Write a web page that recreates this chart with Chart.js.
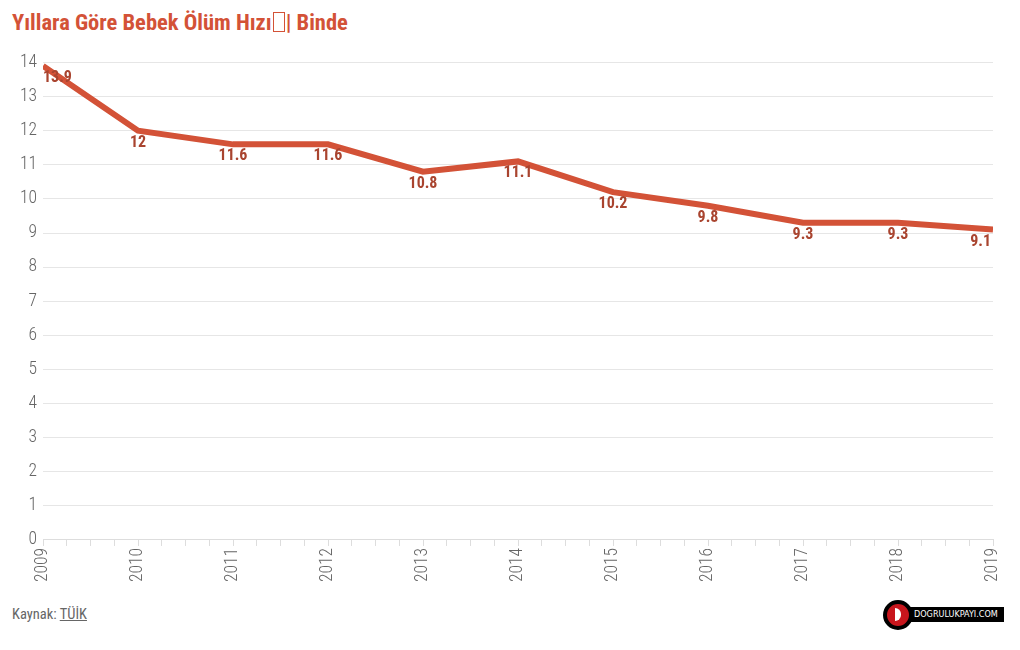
<!DOCTYPE html>
<html>
<head>
<meta charset="utf-8">
<script src="https://cdn.jsdelivr.net/npm/chart.js@4"></script>
<style>
  body { margin: 0; background: #fff; font-family: "Roboto Condensed", "Liberation Sans Narrow", "DejaVu Sans Condensed", Roboto, sans-serif; }
  #title { position: absolute; left: 12px; top: 9px; font-size: 22.5px; font-weight: bold; color: #d35237; }
  #title .box { display: inline-block; width: 10px; height: 18px; border: 1px solid #d35237; vertical-align: -2px; margin: 0 1px; }
  #wrap { position: absolute; left: 0; top: 46px; width: 1016px; height: 538px; }
  #source { position: absolute; left: 12px; top: 606px; font-size: 14.5px; color: #666; }
  #source a { color: #666; text-decoration: underline; }
  #logo { position: absolute; left: 883px; top: 600px; height: 30px; }
  #logo .disc { position: absolute; left: 0; top: 0; width: 22px; height: 22px; border: 4px solid #000; border-radius: 50%; background: #c8161d; z-index: 2; }
  #logo .disc span { position: absolute; left: 8px; top: 4px; width: 6px; height: 13px; background: #fff; border-radius: 0 7px 7px 0; }
  #logo .bar { position: absolute; left: 24px; top: 7px; width: 97px; height: 15px; background: #000; color: #fff; font-size: 9px; line-height: 15px; padding-left: 7px; box-sizing: border-box; font-family: "DejaVu Sans Condensed", sans-serif; white-space: nowrap; overflow: hidden; }
</style>
</head>
<body>
<div id="title">Yıllara Göre Bebek Ölüm Hızı<span class="box"></span>| Binde</div>
<div id="wrap"><canvas id="lineChart"></canvas></div>
<div id="source">Kaynak: <a>TÜİK</a></div>
<div id="logo"><div class="disc"><span></span></div><div class="bar">DOGRULUKPAYI.COM</div></div>
<script>
const years = [2009, 2010, 2011, 2012, 2013, 2014, 2015, 2016, 2017, 2018, 2019];
const rates = [13.9, 12, 11.6, 11.6, 10.8, 11.1, 10.2, 9.8, 9.3, 9.3, 9.1];
const yTicks = [0, 1, 2, 3, 4, 5, 6, 7, 8, 9, 10, 11, 12, 13, 14];

const FONT = '"Roboto Condensed", "Liberation Sans Narrow", "DejaVu Sans Condensed", Roboto, sans-serif';

// labels under each point, kept inside the plot area
const pointLabels = {
    id: 'pointLabels',
    afterDatasetsDraw(chart) {
        const ctx = chart.ctx;
        const area = chart.chartArea;
        const meta = chart.getDatasetMeta(0);
        ctx.save();
        ctx.font = 'bold 16px ' + FONT;
        ctx.fillStyle = '#a9442f';
        ctx.textBaseline = 'middle';
        meta.data.forEach((pt, i) => {
            const txt = String(rates[i]);
            const w = ctx.measureText(txt).width;
            let x = pt.x - w / 2;
            if (x < area.left) x = area.left;
            if (x + w > area.right - 2) x = area.right - 2 - w;
            ctx.textAlign = 'left';
            ctx.fillText(txt, x, pt.y + 12);
        });
        ctx.restore();
    }
};

new Chart(document.getElementById('lineChart').getContext('2d'), {
    type: 'line',
    data: {
        datasets: [{
            data: years.map((y, i) => ({ x: y, y: rates[i] })),
            borderColor: '#d35237',
            borderWidth: 6,
            pointRadius: 0,
            tension: 0,
            fill: false
        }]
    },
    options: {
        responsive: true,
        maintainAspectRatio: false,
        animation: false,
        layout: { padding: { top: 4, right: 12, left: 0, bottom: 0 } },
        plugins: { legend: { display: false }, tooltip: { enabled: false } },
        scales: {
            x: {
                type: 'linear',
                min: 2009,
                max: 2019,
                afterBuildTicks(scale) {
                    const t = [];
                    for (let v = 2009; v <= 2019.001; v += 0.25) t.push({ value: Math.round(v * 100) / 100 });
                    scale.ticks = t;
                },
                ticks: {
                    autoSkip: false,
                    minRotation: 90,
                    maxRotation: 90,
                    padding: 2,
                    color: '#666',
                    font: { family: FONT, size: 17.5, weight: '300' },
                    callback: v => (years.includes(v) ? String(v) : '')
                },
                grid: { drawOnChartArea: false, drawTicks: true, tickLength: 6, color: '#ddd' },
                border: { color: '#ddd' }
            },
            y: {
                min: 0,
                max: 14,
                afterBuildTicks(scale) { scale.ticks = yTicks.map(v => ({ value: v })); },
                afterFit(scale) { scale.width = 43; },
                ticks: {
                    padding: 6,
                    color: '#666',
                    font: { family: FONT, size: 17.5, weight: '300' }
                },
                grid: { color: '#e6e6e6', drawTicks: false },
                border: { display: false }
            }
        }
    },
    plugins: [pointLabels]
});
</script>
</body>
</html>
